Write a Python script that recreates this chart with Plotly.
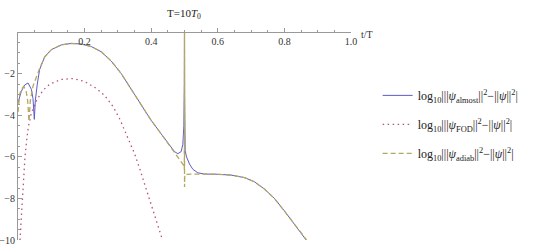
import plotly.graph_objects as go

# ---- data ----
t_almost = [0, 0.01, 0.02, 0.03, 0.04, 0.045, 0.049, 0.052, 0.058, 0.065, 0.08, 0.1, 0.13,
            0.16, 0.19, 0.22, 0.25, 0.28, 0.31, 0.34, 0.37, 0.40, 0.43, 0.45, 0.47, 0.48,
            0.49, 0.495, 0.498, 0.4995, 0.5, 0.5005, 0.502, 0.506, 0.515, 0.525, 0.54, 0.56,
            0.6, 0.64, 0.68, 0.71, 0.74, 0.77, 0.80, 0.83, 0.86, 0.87]
v_almost = [-3.4, -2.85, -2.55, -2.45, -2.75, -3.2, -4.2, -3.3, -2.5, -1.8, -1.2, -0.85, -0.62,
            -0.55, -0.58, -0.7, -0.95, -1.4, -2.0, -2.75, -3.5, -4.25, -4.9, -5.35, -5.75, -5.85,
            -5.75, -5.4, -4.5, -2.5, 0.5, -3.0, -5.7, -6.0, -6.35, -6.6, -6.77, -6.83,
            -6.84, -6.88, -7.0, -7.2, -7.55, -8.0, -8.6, -9.25, -9.85, -10.1]

t_fod = [0.006, 0.01, 0.013, 0.017, 0.021, 0.026, 0.031, 0.04, 0.056, 0.075, 0.096, 0.13,
         0.166, 0.2, 0.236, 0.26, 0.286, 0.306, 0.331, 0.35, 0.366, 0.38, 0.396, 0.41, 0.425, 0.435]
v_fod = [-10, -8.8, -7.8, -6.8, -6.0, -5.2, -4.57, -3.9, -3.28, -2.8, -2.5, -2.28,
         -2.24, -2.38, -2.72, -3.05, -3.6, -4.2, -5.1, -5.85, -6.6, -7.3, -8.1, -8.8, -9.55, -10.05]

t_adiab = [0, 0.005, 0.01, 0.017, 0.024, 0.029, 0.033, 0.037, 0.045, 0.055, 0.065, 0.08, 0.1,
           0.13, 0.16, 0.19, 0.22, 0.25, 0.28, 0.31, 0.34, 0.37, 0.40, 0.43, 0.45, 0.47, 0.48,
           0.49, 0.497, 0.4995, 0.5, 0.5001, 0.501, 0.52, 0.56, 0.6, 0.64, 0.68, 0.71, 0.74,
           0.77, 0.80, 0.83, 0.86, 0.87]
v_adiab = [-3.85, -3.0, -2.75, -2.62, -2.8, -3.3, -4.3, -3.3, -2.6, -2.15, -1.75, -1.2, -0.85,
           -0.62, -0.55, -0.58, -0.7, -0.95, -1.4, -2.0, -2.75, -3.5, -4.25, -4.9, -5.35, -5.8, -6.0,
           -6.2, -6.4, -6.6, 0.5, -7.45, -6.85, -6.83, -6.83, -6.84, -6.88, -7.0, -7.2, -7.55,
           -8.0, -8.6, -9.25, -9.85, -10.1]

x_tickvals = [0.2, 0.4, 0.6, 0.8, 1.0]
x_ticktext = ["0.2", "0.4", "0.6", "0.8", "1.0"]
y_tickvals = [-2, -4, -6, -8, -10]
y_ticktext = ["\u22122", "\u22124", "\u22126", "\u22128", "\u221210"]

names = [
    "log<sub>10</sub>|||<i>\u03c8</i><sub>almost</sub>||<sup>2</sup>\u2212||<i>\u03c8</i>||<sup>2</sup>|",
    "log<sub>10</sub>|||<i>\u03c8</i><sub>FOD</sub>||<sup>2</sup>\u2212||<i>\u03c8</i>||<sup>2</sup>|",
    "log<sub>10</sub>|||<i>\u03c8</i><sub>adiab</sub>||<sup>2</sup>\u2212||<i>\u03c8</i>||<sup>2</sup>|",
]

SERIF = "Liberation Serif, Times New Roman, serif"

fig = go.Figure()
fig.add_trace(go.Scatter(x=t_almost, y=v_almost, mode="lines", name=names[0], legendgroup="a",
                         line=dict(color="#5c5cc8", width=1)))
fig.add_trace(go.Scatter(x=t_fod, y=v_fod, mode="lines", name=names[1], legendgroup="b",
                         line=dict(color="#b8507e", width=1.3, dash="1.5px,3.5px")))
fig.add_trace(go.Scatter(x=t_adiab, y=v_adiab, mode="lines", name=names[2], legendgroup="c",
                         line=dict(color="#b5a85e", width=1.3, dash="5px,3px")))

fig.update_layout(
    width=545, height=246,
    margin=dict(l=18, r=194, t=32, b=6, autoexpand=False),
    paper_bgcolor="white", plot_bgcolor="white",
    font=dict(family=SERIF, size=10, color="#333333"),
    title=dict(text="T=10<i>T</i><sub>0</sub>", x=184 / 545, xanchor="center",
               y=1 - 13 / 246, yanchor="middle", font=dict(family=SERIF, size=11, color="#222")),
    legend=dict(x=1.08, xanchor="left", y=0.765, yanchor="top",
                font=dict(family=SERIF, size=12, color="#222"),
                bgcolor="rgba(0,0,0,0)", tracegroupgap=10),
    showlegend=True,
)

fig.update_xaxes(
    range=[0, 1], anchor="free", position=1.0, side="bottom",
    showline=True, linecolor="#999999", linewidth=1,
    showgrid=False, zeroline=False, automargin=False,
    ticks="inside", ticklen=4, tickcolor="#999999", tickwidth=1,
    tickvals=x_tickvals, ticktext=x_ticktext,
    minor=dict(tickmode="linear", tick0=0, dtick=0.05, ticks="inside", ticklen=2,
               tickcolor="#999999"),
)
fig.update_yaxes(
    range=[-10, 0], showline=True, linecolor="#999999", linewidth=1,
    showgrid=False, zeroline=False, automargin=False,
    ticks="inside", ticklen=4, tickcolor="#999999", tickwidth=1,
    tickvals=y_tickvals, ticktext=y_ticktext,
    minor=dict(tickmode="linear", tick0=0, dtick=0.5, ticks="inside", ticklen=2,
               tickcolor="#999999"),
)

fig.add_annotation(text="t/T", x=1.048, y=0.99, xref="paper", yref="paper",
                   xanchor="center", yanchor="middle",
                   showarrow=False, font=dict(family=SERIF, size=10, color="#333"))

fig.write_html("out.html", config={"displayModeBar": False},
               post_script="document.body.style.margin='0';document.body.style.overflow='hidden';")
